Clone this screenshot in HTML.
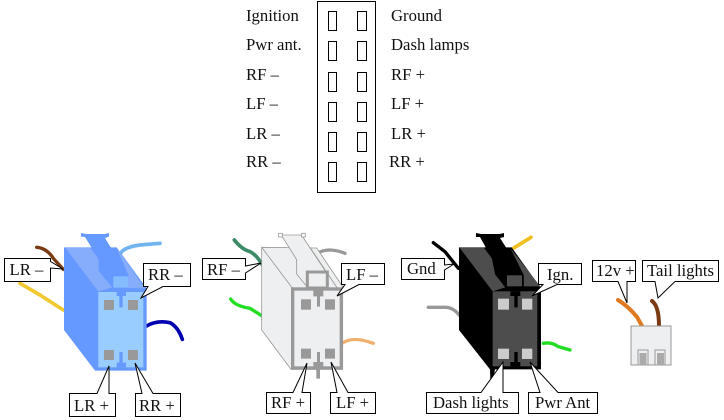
<!DOCTYPE html>
<html><head><meta charset="utf-8"><style>
html,body{margin:0;padding:0;background:#fff;width:724px;height:420px;overflow:hidden}
svg{display:block}
text{font-family:"Liberation Serif",serif;font-size:16.7px;fill:#111}
.b{fill:#fff;stroke:#000;stroke-width:1}
.w{fill:none;stroke-linecap:round;stroke-linejoin:round}
</style></head><body>
<svg width="724" height="420" viewBox="0 0 724 420" xmlns="http://www.w3.org/2000/svg">
<!-- pinout -->
<rect x="317.5" y="1.500" width="58" height="191" fill="#fff" stroke="#000"/>
<g fill="none" stroke="#000">
<rect x="328.500" y="11.500" width="8" height="19"/><rect x="357.500" y="11.500" width="9" height="19"/>
<rect x="328.500" y="41.500" width="8" height="19"/><rect x="357.500" y="41.500" width="9" height="19"/>
<rect x="328.500" y="72.500" width="8" height="19"/><rect x="357.500" y="72.500" width="9" height="19"/>
<rect x="328.500" y="102.500" width="8" height="19"/><rect x="357.500" y="102.500" width="9" height="19"/>
<rect x="328.500" y="132.500" width="8" height="19"/><rect x="357.500" y="132.500" width="9" height="19"/>
<rect x="328.500" y="162.500" width="8" height="19"/><rect x="357.500" y="162.500" width="9" height="19"/>
</g>
<text x="246" y="21">Ignition</text><text x="391" y="21">Ground</text>
<text x="246" y="50">Pwr ant.</text><text x="391" y="50">Dash lamps</text>
<text x="246" y="80">RF –</text><text x="391" y="80">RF +</text>
<text x="246" y="109">LF –</text><text x="391" y="109">LF +</text>
<text x="246" y="139">LR –</text><text x="391" y="139">LR +</text>
<text x="246" y="167">RR –</text><text x="389" y="167">RR +</text>

<!-- blue connector -->
<g transform="translate(0,220) scale(.3333)">
<path class="w" d="M110 82Q140 84 160 115L190 148" stroke="#7a3b14" stroke-width="10"/>
<path class="w" d="M60 190L120 225L190 270" stroke="#f0c832" stroke-width="11"/>
<path class="w" d="M362 100Q370 82 420 75L480 70" stroke="#72b4f0" stroke-width="11"/>
<path class="w" d="M440 318Q470 300 510 308Q535 322 547 358" stroke="#0000b0" stroke-width="11"/>
<polygon points="192,82 350,82 440,205 440,452 285,452 192,330" fill="#6699ff"/>
<polygon points="195,82 270,82 295,116 297,154 337,202 295,214" fill="#86adfb"/>
<polygon points="350,84 435,205 385,204 385,165" fill="#86adfb"/>
<polygon points="243,39 258,42 315,42 327,39 327,50 315,54 385,169 385,204 337,202 297,154 295,116 255,51 243,50" fill="#6699ff"/>
<rect x="340" y="169" width="45" height="34" fill="#85bcff"/>
<rect x="295" y="216" width="135" height="226" fill="#99ccff"/>
<path d="M350 216H378V228H368V262H358V228H350Z" fill="#6699ff"/>
<path d="M350 442H378V428H368V396H358V428H350Z" fill="#6699ff"/>
<rect x="312" y="240" width="30" height="30" fill="#999"/><rect x="384" y="240" width="30" height="30" fill="#999"/>
<rect x="312" y="390" width="30" height="30" fill="#999"/><rect x="384" y="390" width="30" height="30" fill="#999"/>
</g>
<!-- grey connector -->
<g transform="translate(200,220) scale(.3333)">
<path class="w" d="M103 60Q125 88 150 95Q170 105 185 132" stroke="#3b8a68" stroke-width="11"/>
<path class="w" d="M92 237Q105 258 150 265L185 287" stroke="#22dd22" stroke-width="10"/>
<path class="w" d="M352 100Q385 80 435 100" stroke="#999" stroke-width="10"/>
<path class="w" d="M430 368Q460 348 520 370" stroke="#f0b070" stroke-width="10"/>
<polygon points="185,82 350,84 428,200 428,448 273,448 185,330" fill="#eeeff0" stroke="#999" stroke-width="2.5"/>
<path d="M185 82L277 204M330 82L415 209" stroke="#999" stroke-width="2.5" fill="none"/>
<polygon points="247,47 306,47 380,159 380,200 320,199 290,162 290,119" fill="#eeeff0"/>
<path d="M245 47L290 119V162L320 199M306 47L380 159" stroke="#999" stroke-width="2.5" fill="none"/>
<path d="M241 45H310" stroke="#999" stroke-width="2.5"/>
<rect x="236" y="40" width="11" height="11" fill="#fff" stroke="#999" stroke-width="2.5"/><rect x="305" y="40" width="11" height="11" fill="#fff" stroke="#999" stroke-width="2.5"/>
<rect x="322" y="156" width="60" height="48" fill="#eeeff0" stroke="#999" stroke-width="9"/>
<rect x="278" y="207" width="146" height="237" fill="#eeeff0" stroke="#999" stroke-width="10"/>
<path d="M340 210H370V229H360V260H351V229H340Z" fill="#999"/>
<path d="M340 444H349V476H360V444H370V426H360V396H351V426H340Z" fill="#999"/>
<rect x="303" y="238" width="30" height="31" fill="#999"/><rect x="375" y="238" width="30" height="31" fill="#999"/>
<rect x="303" y="386" width="30" height="30" fill="#999"/><rect x="375" y="386" width="30" height="30" fill="#999"/>
</g>
<!-- black connector -->
<g transform="translate(395,220) scale(.3333)">
<path class="w" d="M115 68L150 95L190 145" stroke="#000" stroke-width="10"/>
<path class="w" d="M355 85L408 52" stroke="#f0c020" stroke-width="11"/>
<path class="w" d="M100 262H150Q175 262 192 285" stroke="#999" stroke-width="10"/>
<path class="w" d="M445 370Q470 365 490 380L525 390" stroke="#22dd22" stroke-width="10"/>
<polygon points="192,82 350,82 438,205 438,448 300,448 295,475 286,478 285,448 192,330" fill="#000"/>
<polygon points="193,82 266,82 291,116 301,164 331,202 293,214" fill="#4d4d4d"/>
<polygon points="346,84 436,199 386,199 386,165" fill="#4d4d4d"/>
<polygon points="243,39 258,42 315,42 327,39 327,51 315,54 386,165 386,204 331,202 301,164 291,116 255,51 243,51" fill="#000"/>
<rect x="336" y="166" width="45" height="33" fill="#4d4d4d"/>
<rect x="293" y="214" width="134" height="225" fill="#4d4d4d"/>
<path d="M346 214H376V228H368V262H358V228H346Z" fill="#000"/>
<path d="M346 439H376V426H368V396H358V426H346Z" fill="#000"/>
<rect x="309" y="236" width="33" height="33" fill="#ccc"/><rect x="381" y="236" width="31" height="33" fill="#ccc"/>
<rect x="309" y="386" width="33" height="31" fill="#ccc"/><rect x="381" y="386" width="31" height="31" fill="#ccc"/>
</g>
<!-- small connector -->
<path class="w" d="M618 300Q628 306 637 317L642 326" stroke="#e07a20" stroke-width="4"/>
<path class="w" d="M652 301Q659 306 659 326" stroke="#7a3b14" stroke-width="4"/>
<rect x="631" y="326" width="40" height="39" fill="#eeeff0" stroke="#999"/>
<path d="M638 365V350H648V365M655 365V350H665V365" fill="none" stroke="#999"/>
<rect x="639.500" y="353" width="7" height="12" fill="#aaa"/><rect x="657" y="353" width="7" height="12" fill="#aaa"/>

<!-- callouts -->
<path class="b" d="M4.500 258.500H50.500V261.500L63 269L50.500 268V281.500H4.500Z"/>
<text x="9.500" y="275">LR –</text>
<path class="b" d="M143.500 263.500H190.500V286.500H163L141 298L148 286.500H143.500Z"/>
<text x="148" y="280">RR –</text>
<path class="b" d="M69.500 393.500H97L109 366V393.500H115.500V416.500H69.500Z"/>
<text x="74" y="411">LR +</text>
<path class="b" d="M135.500 393.500H142L135 363L153 393.500H180.500V416.500H135.500Z"/>
<text x="139" y="411">RR +</text>

<path class="b" d="M202.500 258.500H245.500V266L261 263L245.500 273V279.500H202.500Z"/>
<text x="207" y="275">RF –</text>
<path class="b" d="M341.500 263.500H384.500V284.500H359L337 296L345 284.500H341.500Z"/>
<text x="346" y="280">LF –</text>
<path class="b" d="M266.500 392.500H293L307 363L302 392.500H310.500V413.500H266.500Z"/>
<text x="271" y="408">RF +</text>
<path class="b" d="M330.500 392.500H337L331 362L348 392.500H375.500V413.500H330.500Z"/>
<text x="336" y="408">LF +</text>

<path class="b" d="M401.500 258.500H444.500V265L454 264L444.500 270V279.500H401.500Z"/>
<text x="407" y="274">Gnd</text>
<path class="b" d="M538.500 263.500H581.500V284.500H557L532 296L543 284.500H538.500Z"/>
<text x="547" y="280">Ign.</text>
<path class="b" d="M426.500 392.500H481L503 362V392.500H518.500V413.500H426.500Z"/>
<text x="433" y="408">Dash lights</text>
<path class="b" d="M528.500 392.500H540L530 362L558 392.500H597.500V413.500H528.500Z"/>
<text x="535" y="408">Pwr Ant</text>

<path class="b" d="M592.500 260.500H635.500V281.500H627V303L618 281.500H592.500Z"/>
<text x="596" y="276">12v +</text>
<path class="b" d="M642.500 260.500H718.500V281.500H675L658 298L655 281.500H642.500Z"/>
<text x="647" y="276">Tail lights</text>
</svg>
</body></html>
